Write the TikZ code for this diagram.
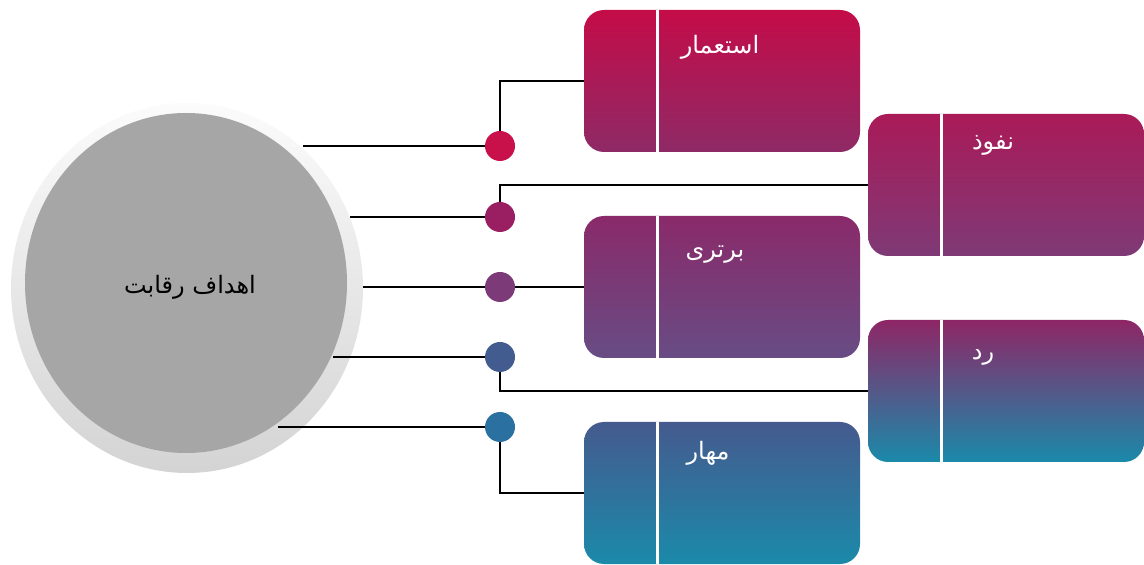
\documentclass[tikz,border=0pt]{standalone}
\usepackage{fontspec}
\usetikzlibrary{shapes.geometric}
\newfontfamily\arabicfont[Script=Arabic]{DejaVu Sans}
\TeXXeTstate=1
\definecolor{topA}{HTML}{C40C48}
\definecolor{botA}{HTML}{8E2A66}
\definecolor{topB}{HTML}{AA1A58}
\definecolor{botB}{HTML}{7E3A76}
\definecolor{topC}{HTML}{8A2A6A}
\definecolor{botC}{HTML}{684C84}
\definecolor{topD}{HTML}{8E2666}
\definecolor{botD}{HTML}{1A8AAA}
\definecolor{topE}{HTML}{455A8E}
\definecolor{botE}{HTML}{1B8AAA}
\definecolor{dotA}{HTML}{C8104A}
\definecolor{dotB}{HTML}{9A1F62}
\definecolor{dotC}{HTML}{7D3A78}
\definecolor{dotD}{HTML}{435C90}
\definecolor{dotE}{HTML}{2A70A0}

\begin{document}
\begin{tikzpicture}[x=0.5pt,y=-0.5pt,
	box/.style={rounded corners=10pt,minimum width=138pt,minimum height=71pt,inner sep=0pt},
	ball/.style={circle,minimum size=15pt,inner sep=0pt},
	wire/.style={line width=1.25pt},
	cut/.style={white,line width=1.5pt},
	word/.style={text=white,font=\arabicfont\fontsize{12}{14}\selectfont}]
	\useasboundingbox (0,0) rectangle (1144,565);

	\node[ellipse,minimum width=176pt,minimum height=185pt,top color=gray!3,bottom color=gray!34] (halo) at (187,288) {};
	\node[ellipse,minimum width=161pt,minimum height=170pt,fill=gray!70] (goal) at (186,283) {};
	\node[font=\arabicfont\fontsize{12}{14}\selectfont] (title) at (190,287) {\beginR اهداف رقابت\endR};

	\node[box,top color=topA,bottom color=botA] (b1) at (722,81) {};
	\node[box,top color=topB,bottom color=botB] (b2) at (1006,185) {};
	\node[box,top color=topC,bottom color=botC] (b3) at (722,287) {};
	\node[box,top color=topD,bottom color=botD] (b4) at (1006,391) {};
	\node[box,top color=topE,bottom color=botE] (b5) at (722,493) {};
	\draw[cut] ([xshift=37pt]b1.north west) -- ([xshift=37pt]b1.south west);
	\draw[cut] ([xshift=37pt]b2.north west) -- ([xshift=37pt]b2.south west);
	\draw[cut] ([xshift=37pt]b3.north west) -- ([xshift=37pt]b3.south west);
	\draw[cut] ([xshift=37pt]b4.north west) -- ([xshift=37pt]b4.south west);
	\draw[cut] ([xshift=37pt]b5.north west) -- ([xshift=37pt]b5.south west);
	\node[word] (w1) at (720,47) {\beginR استعمار\endR};
	\node[word] (w2) at (993,145) {\beginR نفوذ\endR};
	\node[word] (w3) at (715,255) {\beginR برتری\endR};
	\node[word] (w4) at (983,357) {\beginR رد\endR};
	\node[word] (w5) at (708,453) {\beginR مهار\endR};

	\node[ball,fill=dotA] (d1) at (500,146) {};
	\node[ball,fill=dotB] (d2) at (500,217) {};
	\node[ball,fill=dotC] (d3) at (500,287) {};
	\node[ball,fill=dotD] (d4) at (500,357) {};
	\node[ball,fill=dotE] (d5) at (500,427) {};
	\coordinate (s1) at (303,146);
	\coordinate (s2) at (350,217);
	\coordinate (s3) at (363,287);
	\coordinate (s4) at (333,357);
	\coordinate (s5) at (278,427);
	\draw[wire] (s1) -- (d1);
	\draw[wire] (s2) -- (d2);
	\draw[wire] (s3) -- (d3);
	\draw[wire] (s4) -- (d4);
	\draw[wire] (s5) -- (d5);
	\draw[wire] (d1) |- (b1.west);
	\draw[wire] (d2) |- (b2.west);
	\draw[wire] (d3) -- (b3.west);
	\draw[wire] (d4) |- (b4.west);
	\draw[wire] (d5) |- (b5.west);
\end{tikzpicture}
\end{document}
